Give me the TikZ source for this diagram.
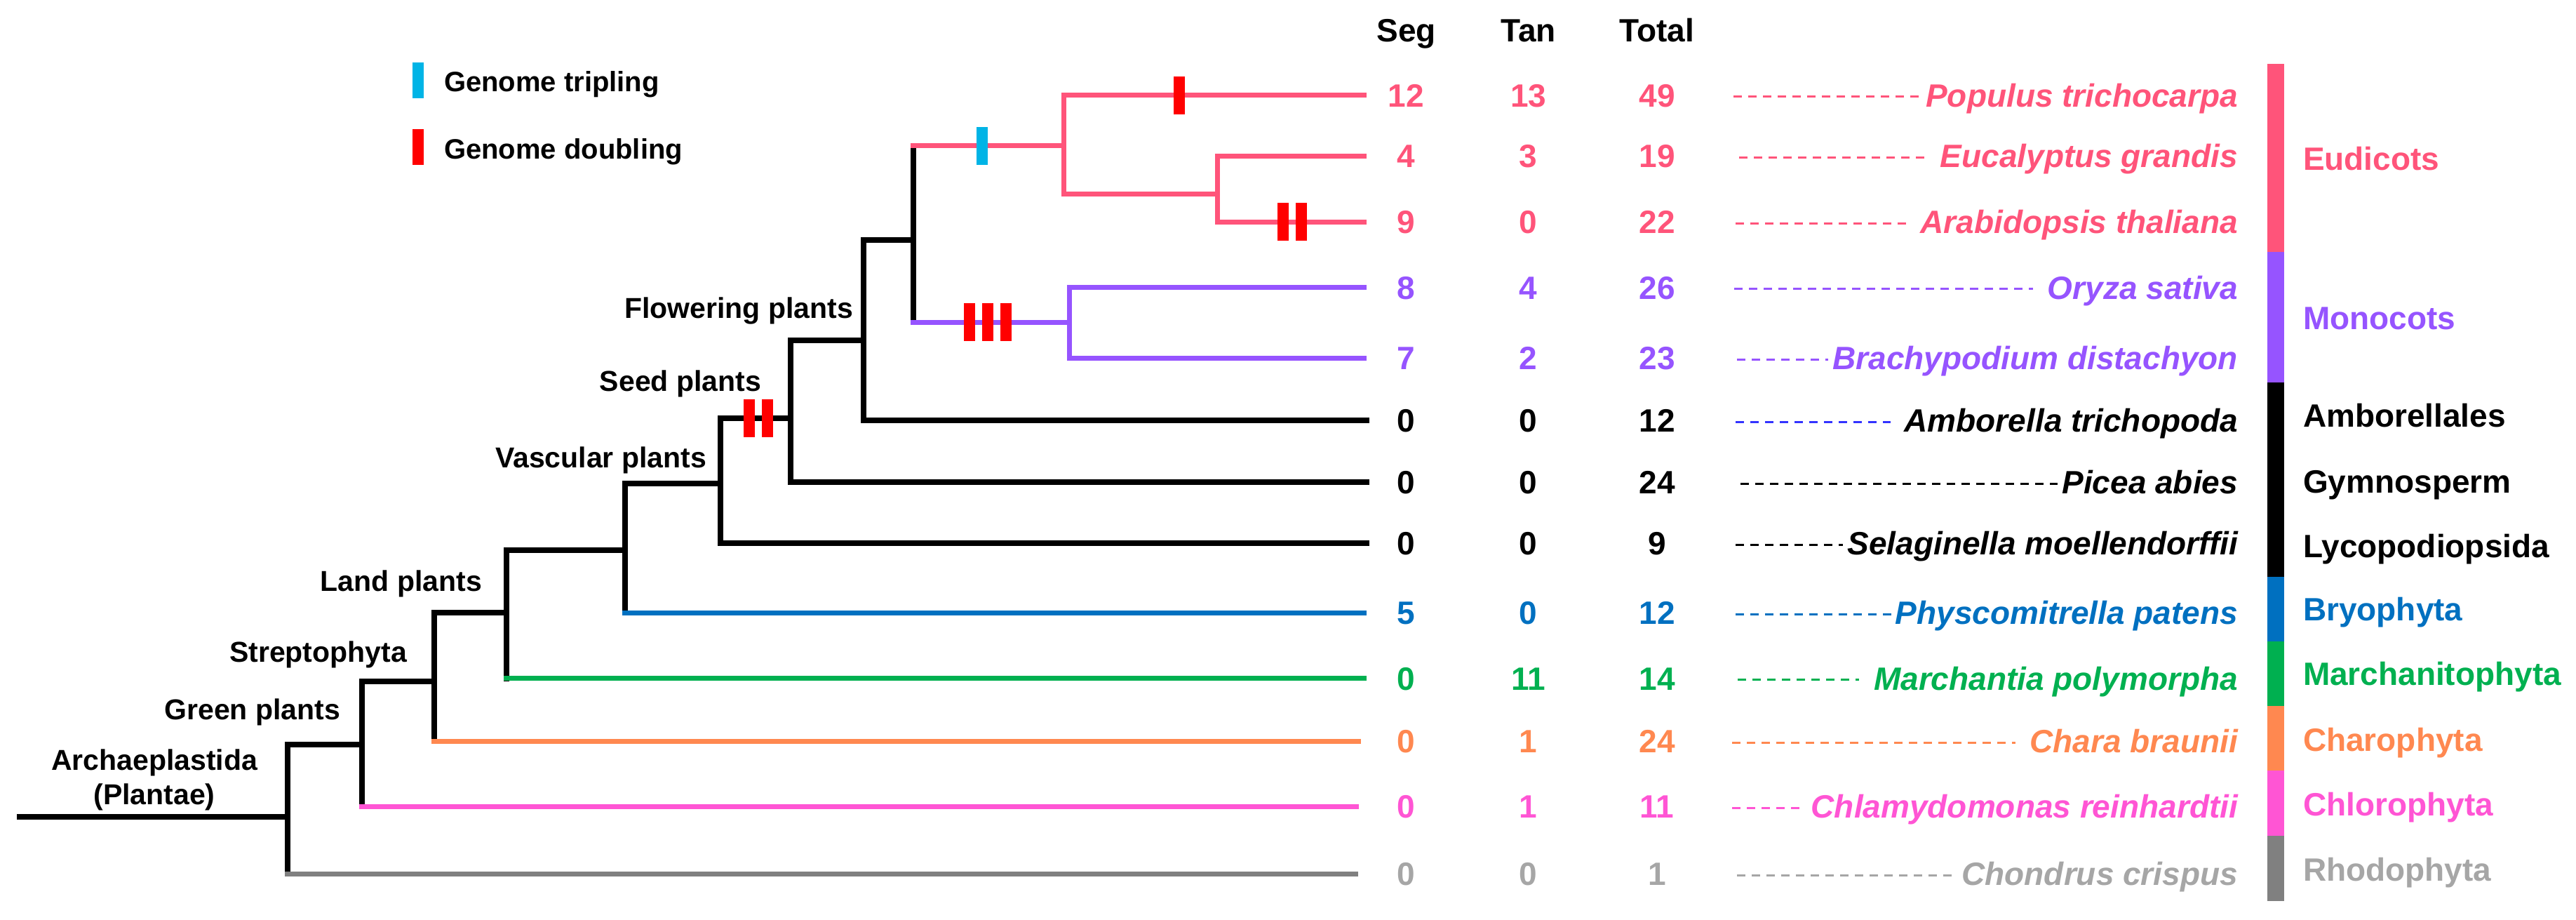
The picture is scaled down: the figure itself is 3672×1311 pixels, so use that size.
\documentclass[tikz,border=0pt]{standalone}
\usepackage{fontspec}
\setmainfont{Liberation Sans}
\definecolor{eud}{RGB}{255,84,122}
\definecolor{mon}{RGB}{150,84,255}
\definecolor{bry}{RGB}{0,112,192}
\definecolor{mar}{RGB}{0,176,80}
\definecolor{cha}{RGB}{255,136,80}
\definecolor{chl}{RGB}{255,85,212}
\definecolor{rhl}{RGB}{128,128,128}
\definecolor{rht}{RGB}{166,166,166}
\definecolor{amb}{RGB}{51,51,255}
\definecolor{tri}{RGB}{0,180,230}
\definecolor{dbl}{RGB}{255,0,0}
\begin{document}
\begin{tikzpicture}[x=1pt,y=-1pt,
  every node/.style={inner sep=0pt,outer sep=0pt,font=\fontsize{46}{55}\selectfont\bfseries},
  lab/.style={font=\fontsize{41}{49}\selectfont\bfseries},
  leg/.style={font=\fontsize{40}{48}\selectfont\bfseries},
  br/.style={line width=8pt,line cap=rect,black},
  cbr/.style={line width=7pt},
  spdash/.style={line width=3pt,dash pattern=on 12pt off 9pt},
  wgdbar/.style={minimum width=16pt,minimum height=54pt,draw=none}]
\useasboundingbox (0,0) rectangle (3672,1311);

% ---------- tree node coordinates ----------
\coordinate (root) at (28,1164);
\coordinate (A)  at (410,1164);  \coordinate (At) at (410,1061);  \coordinate (Ab) at (410,1245);
\coordinate (G)  at (516,1061);  \coordinate (Gt) at (516,971);   \coordinate (Gb) at (516,1149);
\coordinate (S)  at (619,971);   \coordinate (St) at (619,873);   \coordinate (Sb) at (619,1056);
\coordinate (L)  at (722,873);   \coordinate (Lt) at (722,784);   \coordinate (Lb) at (722,966.5);
\coordinate (E)  at (891,784);   \coordinate (Et) at (891,689);   \coordinate (Eb) at (891,873);
\coordinate (V)  at (1027,689);  \coordinate (Vt) at (1027,596);  \coordinate (Vb) at (1027,774);
\coordinate (P)  at (1127,596);  \coordinate (Pt) at (1127,485);  \coordinate (Pb) at (1127,687);
\coordinate (F)  at (1231,485);  \coordinate (Ft) at (1231,341.5); \coordinate (Fb) at (1231,599);
\coordinate (M)  at (1302,341.5); \coordinate (Mt) at (1302,207.5); \coordinate (Mb) at (1302,459);
\coordinate (D)  at (1516,207.5); \coordinate (Dt) at (1516,136); \coordinate (Db) at (1516,276);
\coordinate (R)  at (1735,276);  \coordinate (Rt) at (1735,222);  \coordinate (Rb) at (1735,316);
\coordinate (O)  at (1524,459);  \coordinate (Ot) at (1524,409.5); \coordinate (Ob) at (1524,510);
% colored branch starts
\coordinate (Mt0) at (1298,207.5); \coordinate (Mb0) at (1298,459);
\coordinate (Eb0) at (887,873); \coordinate (Lb0) at (718,966.5); \coordinate (Sb0) at (615,1056);
\coordinate (Gb0) at (512,1149); \coordinate (Ab0) at (406,1245);
% leaf ends
\coordinate (e0) at (1948,136);   \coordinate (e1) at (1948,222);  \coordinate (e2) at (1948,316);
\coordinate (e3) at (1948,409.5); \coordinate (e4) at (1948,510);  \coordinate (e5) at (1948,599);
\coordinate (e6) at (1948,687);   \coordinate (e7) at (1948,774);  \coordinate (e8) at (1948,873);
\coordinate (e9) at (1948,966.5); \coordinate (e10) at (1940,1056); \coordinate (e11) at (1937,1149);
\coordinate (e12) at (1936,1245);

% ---------- black backbone ----------
\draw[br] (root) -- (A);
\draw[br] (At) -- (Ab);  \draw[br] (At) -- (G);
\draw[br] (Gt) -- (Gb);  \draw[br] (Gt) -- (S);
\draw[br] (St) -- (Sb);  \draw[br] (St) -- (L);
\draw[br] (Lt) -- (Lb);  \draw[br] (Lt) -- (E);
\draw[br] (Et) -- (Eb);  \draw[br] (Et) -- (V);
\draw[br] (Vt) -- (Vb);  \draw[br] (Vt) -- (P);
\draw[br] (Pt) -- (Pb);  \draw[br] (Pt) -- (F);
\draw[br] (Ft) -- (Fb);  \draw[br] (Ft) -- (M);
\draw[br] (Mt) -- (Mb);
\draw[br] (Vb) -- (e7);
\draw[br] (Pb) -- (e6);
\draw[br] (Fb) -- (e5);

% ---------- colored branches ----------
\draw[cbr,eud] (Mt0) -- (D);
\draw[cbr,eud,line cap=rect] (Dt) -- (Db);
\draw[cbr,eud] (Dt) -- (e0);
\draw[cbr,eud] (Db) -- (R);
\draw[cbr,eud,line cap=rect] (Rt) -- (Rb);
\draw[cbr,eud] (Rt) -- (e1);
\draw[cbr,eud] (Rb) -- (e2);
\draw[cbr,mon] (Mb0) -- (O);
\draw[cbr,mon,line cap=rect] (Ot) -- (Ob);
\draw[cbr,mon] (Ot) -- (e3);
\draw[cbr,mon] (Ob) -- (e4);
\draw[cbr,bry] (Eb0) -- (e8);
\draw[cbr,mar] (Lb0) -- (e9);
\draw[cbr,cha] (Sb0) -- (e10);
\draw[cbr,chl] (Gb0) -- (e11);
\draw[cbr,rhl] (Ab0) -- (e12);

% ---------- polyploidy marks ----------
\node[wgdbar,fill=tri] (w1) at (1399.5,207.5) {};
\node[wgdbar,fill=dbl] (w2) at (1681,136) {};
\node[wgdbar,fill=dbl] (w3) at (1828.7,316) {};
\node[wgdbar,fill=dbl] (w4) at (1855,316) {};
\node[wgdbar,fill=dbl] (w5) at (1382,459) {};
\node[wgdbar,fill=dbl] (w6) at (1407.5,459) {};
\node[wgdbar,fill=dbl] (w7) at (1433.5,459) {};
\node[wgdbar,fill=dbl] (w8) at (1068,596) {};
\node[wgdbar,fill=dbl] (w9) at (1094,596) {};

% ---------- legend ----------
\node[wgdbar,minimum height=51pt,fill=tri] (ktri) at (596,114.5) {};
\node[wgdbar,minimum height=51pt,fill=dbl] (kdbl) at (596,209.5) {};
\node[leg,anchor=base west] (ltri) at (633,131) {Genome tripling};
\node[leg,anchor=base west] (ldbl) at (633,226) {Genome doubling};

% ---------- clade labels ----------
\node[lab,anchor=base east] (lflow) at (1216,453) {Flowering plants};
\node[lab,anchor=base east] (lseed) at (1085,557.6) {Seed plants};
\node[lab,anchor=base east] (lvasc) at (1007,666) {Vascular plants};
\node[lab,anchor=base east] (lland) at (687,842) {Land plants};
\node[lab,anchor=base east] (lstrep) at (580,943) {Streptophyta};
\node[lab,anchor=base east] (lgreen) at (485,1025) {Green plants};
\node[lab,anchor=base] (larch1) at (220,1097) {Archaeplastida};
\node[lab,anchor=base] (larch2) at (220,1146) {(Plantae)};

% ---------- table headers ----------
\node[anchor=base] (hseg) at (2004.7,60) {Seg};
\node[anchor=base] (htan) at (2178.6,60) {Tan};
\node[anchor=base] (htot) at (2361.7,60) {Total};

% ---------- rows ----------
\foreach \i/\y/\c/\s/\t/\o/\n/\dc/\g/\dx in {
 0/136/eud/12/13/49/Populus trichocarpa/eud/6/2471,
 1/222/eud/4/3/19/Eucalyptus grandis/eud/21/2479,
 2/316/eud/9/0/22/Arabidopsis thaliana/eud/19.5/2474,
 3/409.5/mon/8/4/26/Oryza sativa/mon/21/2472,
 4/510/mon/7/2/23/Brachypodium distachyon/mon/6/2476,
 5/599/black/0/0/12/Amborella trichopoda/amb/20/2474,
 6/687/black/0/0/24/Picea abies/black/6/2481,
 7/774/black/0/0/9/Selaginella moellendorffii/black/6.5/2474,
 8/873/bry/5/0/12/Physcomitrella patens/bry/6/2474,
 9/966.5/mar/0/11/14/Marchantia polymorpha/mar/21/2477,
 10/1056/cha/0/1/24/Chara braunii/cha/21/2469,
 11/1149/chl/0/1/11/Chlamydomonas reinhardtii/chl/8/2469,
 12/1245/rht/0/0/1/Chondrus crispus/rht/7/2476}
{
 \node[anchor=base,text=\c] (seg\i) at (2004,\y+16.5) {\s};
 \node[anchor=base,text=\c] (tan\i) at (2178.6,\y+16.5) {\t};
 \node[anchor=base,text=\c] (tot\i) at (2362,\y+16.5) {\o};
 \node[anchor=base east,text=\c] (sp\i) at (3190,\y+16.5) {\itshape\n};
 \coordinate (ds\i) at (\dx,\y+2);
 \draw[spdash,\dc,shorten >=\g pt] (ds\i) -- (sp\i.west |- ds\i);
}

% ---------- group bar ----------
\fill[eud] (3232,91) rectangle (3256,359);
\fill[mon] (3232,359) rectangle (3256,545);
\fill[black] (3232,545) rectangle (3256,821.5);
\fill[bry] (3232,821.5) rectangle (3256,914);
\fill[mar] (3232,914) rectangle (3256,1006);
\fill[cha] (3232,1006) rectangle (3256,1098.4);
\fill[chl] (3232,1098.4) rectangle (3256,1191);
\fill[rhl] (3232,1191) rectangle (3256,1283.6);

% ---------- group labels ----------
\node[anchor=base west,text=eud] (g1) at (3283,242) {Eudicots};
\node[anchor=base west,text=mon] (g2) at (3283,469) {Monocots};
\node[anchor=base west] (g3) at (3283,608) {Amborellales};
\node[anchor=base west] (g4) at (3283,702) {Gymnosperm};
\node[anchor=base west] (g5) at (3283,794) {Lycopodiopsida};
\node[anchor=base west,text=bry] (g6) at (3283,884) {Bryophyta};
\node[anchor=base west,text=mar] (g7) at (3283,976) {Marchanitophyta};
\node[anchor=base west,text=cha] (g8) at (3283,1070) {Charophyta};
\node[anchor=base west,text=chl] (g9) at (3283,1162) {Chlorophyta};
\node[anchor=base west,text=rht] (g10) at (3283,1255) {Rhodophyta};
\end{tikzpicture}
\end{document}
